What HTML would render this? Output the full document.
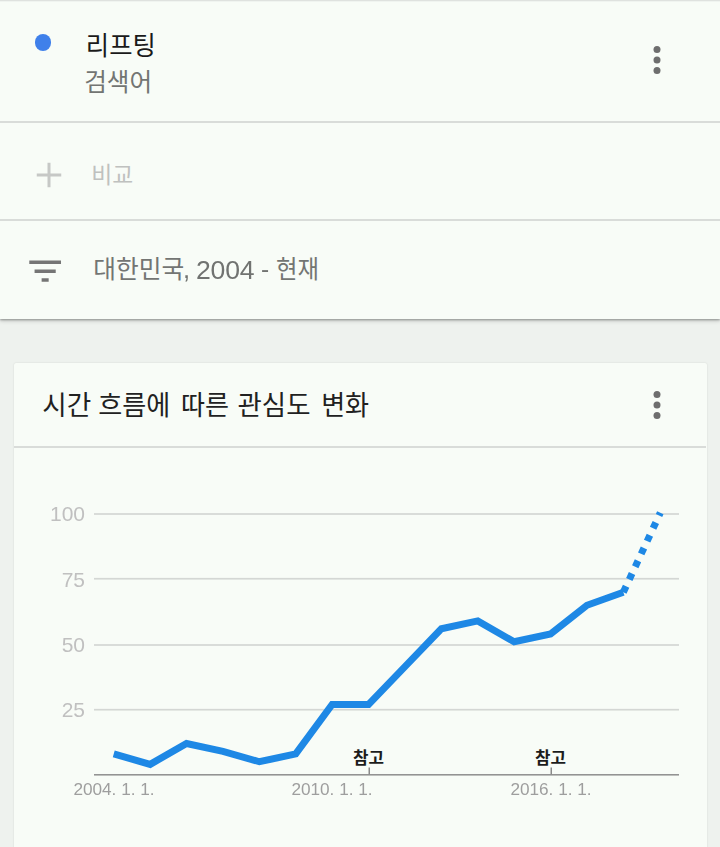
<!DOCTYPE html>
<html lang="ko"><head><meta charset="utf-8"><title>Google Trends</title>
<style>
html,body{margin:0;padding:0}
body{width:720px;height:847px;position:relative;overflow:hidden;background:#eef2ee;font-family:"Liberation Sans",sans-serif;}
.abs,.k,.t{position:absolute}
.k{overflow:visible}
.t{white-space:pre;line-height:1;margin:0;will-change:transform}
.panel{left:0;top:0;width:720px;height:319px;background:#f8fcf7;box-shadow:0 1px 2px rgba(0,0,0,.3),0 2px 4px rgba(0,0,0,.17)}
.hr{left:0;width:720px;height:2px;background:#d9dcd9}
.card{left:14px;top:363px;width:692.5px;height:520px;background:#f8fcf7;border-radius:2px;box-shadow:0 0 2px rgba(0,0,0,.12)}
.dot{border-radius:50%}
.ylab{font-size:21px;color:#c0c0c0;text-align:right;width:60px;left:25px}
.xlab{font-size:17.2px;color:#9e9e9e;text-align:center;width:120px}
.kr{font-family:"Liberation Sans","Noto Sans CJK KR",sans-serif}
</style></head><body>

<div class="abs panel"></div>
<div class="abs" style="left:0;top:0;width:720px;height:2px;background:linear-gradient(#dfe2df,#dfe2df 50%,#f0f4f0 50%,#f0f4f0)"></div>
<div class="abs hr" style="top:121px"></div>
<div class="abs hr" style="top:218.5px"></div>
<div class="abs dot" style="left:34.5px;top:34px;width:16.5px;height:16.5px;background:#3f80ea"></div>
<svg class="k" role="img" aria-label="리프팅" style="left:85.25px;top:31.70px" width="71.60" height="27.30" viewBox="0 0 71.60 27.30"><title>리프팅</title><text class="kr" x="35.8" y="23.3" font-size="26" text-anchor="middle" fill="#1a1a1a" textLength="70" lengthAdjust="spacingAndGlyphs">리프팅</text></svg>
<svg class="k" role="img" aria-label="검색어" style="left:83.00px;top:69.70px" width="70.40" height="25.10" viewBox="0 0 70.40 25.10"><title>검색어</title><text class="kr" x="35.2" y="21.3" font-size="24.5" text-anchor="middle" fill="#737573" textLength="68" lengthAdjust="spacingAndGlyphs">검색어</text></svg>
<svg class="abs" style="left:636.05px;top:38.5px" width="42" height="42" viewBox="0 0 24 24"><g fill="#6e6e6e"><circle cx="12" cy="6" r="2"/><circle cx="12" cy="12" r="2"/><circle cx="12" cy="18" r="2"/></g></svg>
<svg class="abs" style="left:28px;top:154px" width="42" height="42" viewBox="0 0 24 24"><path fill="#c6c8c6" d="M19 12.85h-6.15V19h-1.7v-6.15H5v-1.7h6.15V5h1.7v6.15H19z"/></svg>
<svg class="k" role="img" aria-label="비교" style="left:89.80px;top:162.70px" width="44.50" height="23.70" viewBox="0 0 44.50 23.70"><title>비교</title><text class="kr" x="22.25" y="20" font-size="23" text-anchor="middle" fill="#bfc1bf" textLength="42" lengthAdjust="spacingAndGlyphs">비교</text></svg>
<svg class="abs" style="left:24.2px;top:249.9px" width="42.3" height="42.3" viewBox="0 0 24 24"><path fill="#757575" d="M10 18h4v-2h-4v2zM3 6v2h18V6H3zm3 7h12v-2H6v2z"/></svg>
<svg class="k" role="img" aria-label="대한민국" style="left:92.10px;top:256.90px" width="93.30" height="24.90" viewBox="0 0 93.30 24.90"><title>대한민국</title><text class="kr" x="46.65" y="21.1" font-size="24.5" text-anchor="middle" fill="#737573" textLength="91" lengthAdjust="spacingAndGlyphs">대한민국</text></svg>
<div class="t" style="left:183.4px;top:257.2px;font-size:25.5px;color:#717371">,</div>
<div class="t" style="left:196.2px;top:256.6px;font-size:26.6px;letter-spacing:-.2px;color:#717371">2004</div>
<div class="t" style="left:261.4px;top:256.9px;font-size:24.5px;color:#717371">-</div>
<svg class="k" role="img" aria-label="현재" style="left:275.40px;top:256.40px" width="45.10" height="26.30" viewBox="0 0 45.10 26.30"><title>현재</title><text class="kr" x="22.55" y="22.4" font-size="24.5" text-anchor="middle" fill="#737573" textLength="43" lengthAdjust="spacingAndGlyphs">현재</text></svg>
<div class="abs card"></div>
<svg class="k" role="img" aria-label="시간" style="left:40.50px;top:390.97px" width="51.52" height="28.46" viewBox="0 0 51.52 28.46"><title>시간</title><text class="kr" x="25.76" y="24.3" font-size="27" text-anchor="middle" fill="#212121" textLength="49" lengthAdjust="spacingAndGlyphs">시간</text></svg>
<svg class="k" role="img" aria-label="흐름에" style="left:97.30px;top:390.97px" width="74.44" height="28.43" viewBox="0 0 74.44 28.43"><title>흐름에</title><text class="kr" x="37.22" y="24.3" font-size="27" text-anchor="middle" fill="#212121" textLength="72" lengthAdjust="spacingAndGlyphs">흐름에</text></svg>
<svg class="k" role="img" aria-label="따른" style="left:179.60px;top:390.94px" width="50.25" height="28.46" viewBox="0 0 50.25 28.46"><title>따른</title><text class="kr" x="25.12" y="24.3" font-size="27" text-anchor="middle" fill="#212121" textLength="48" lengthAdjust="spacingAndGlyphs">따른</text></svg>
<svg class="k" role="img" aria-label="관심도" style="left:236.00px;top:390.97px" width="75.98" height="28.11" viewBox="0 0 75.98 28.11"><title>관심도</title><text class="kr" x="38" y="24.3" font-size="27" text-anchor="middle" fill="#212121" textLength="73" lengthAdjust="spacingAndGlyphs">관심도</text></svg>
<svg class="k" role="img" aria-label="변화" style="left:320.10px;top:390.97px" width="50.28" height="28.43" viewBox="0 0 50.28 28.43"><title>변화</title><text class="kr" x="25.14" y="24.3" font-size="27" text-anchor="middle" fill="#212121" textLength="48" lengthAdjust="spacingAndGlyphs">변화</text></svg>
<svg class="abs" style="left:636.05px;top:383.6px" width="42" height="42" viewBox="0 0 24 24"><g fill="#6e6e6e"><circle cx="12" cy="6" r="2"/><circle cx="12" cy="12" r="2"/><circle cx="12" cy="18" r="2"/></g></svg>
<div class="abs" style="left:14px;top:446px;width:692px;height:2px;background:#d9dcd9"></div>
<svg class="abs" style="left:0;top:480px" width="720" height="367" viewBox="0 480 720 367">
<rect x="94" y="513.15" width="585" height="1.7" fill="#d4d7d4"/><rect x="94" y="577.90" width="585" height="1.7" fill="#d4d7d4"/><rect x="94" y="644.15" width="585" height="1.7" fill="#d4d7d4"/><rect x="94" y="708.85" width="585" height="1.7" fill="#d4d7d4"/>
<rect x="94" y="774.05" width="585" height="1.5" fill="#8e8e8e"/>
<rect x="368.5" y="767.5" width="1.5" height="7" fill="#8a8a8a"/>
<rect x="550.5" y="767.5" width="1.5" height="7" fill="#8a8a8a"/>
<polyline points="113.75,753.94 150.15,764.37 186.55,743.50 222.95,751.33 259.35,761.76 295.75,753.94 332.15,704.38 368.55,704.38 404.95,666.57 441.35,628.75 477.75,620.93 514.15,641.79 550.55,633.97 586.95,605.28 623.35,592.24" fill="none" stroke="#1e88e5" stroke-width="7" stroke-linejoin="miter" stroke-linecap="butt"/>
<path d="M623.35 592.24L660.30 512.82" fill="none" stroke="#1e88e5" stroke-width="7" stroke-dasharray="6.5 7.6"/>
</svg>
<div class="t ylab" style="top:503.40px">100</div>
<div class="t ylab" style="top:568.60px">75</div>
<div class="t ylab" style="top:633.80px">50</div>
<div class="t ylab" style="top:699.00px">25</div>
<div class="t xlab" style="left:53.75px;top:780.7px">2004. 1. 1.</div>
<div class="t xlab" style="left:272.15px;top:780.7px">2010. 1. 1.</div>
<div class="t xlab" style="left:490.55px;top:780.7px">2016. 1. 1.</div>
<svg class="k" role="img" aria-label="참고" style="left:351.75px;top:748.75px" width="33.15" height="18.35" viewBox="0 0 33.15 18.35"><title>참고</title><text class="kr" x="16.6" y="15.2" font-size="16.5" font-weight="bold" text-anchor="middle" fill="#1c1c1c" textLength="31" lengthAdjust="spacingAndGlyphs">참고</text></svg>
<svg class="k" role="img" aria-label="참고" style="left:533.75px;top:748.75px" width="33.15" height="18.35" viewBox="0 0 33.15 18.35"><title>참고</title><text class="kr" x="16.6" y="15.2" font-size="16.5" font-weight="bold" text-anchor="middle" fill="#1c1c1c" textLength="31" lengthAdjust="spacingAndGlyphs">참고</text></svg>
</body></html>
